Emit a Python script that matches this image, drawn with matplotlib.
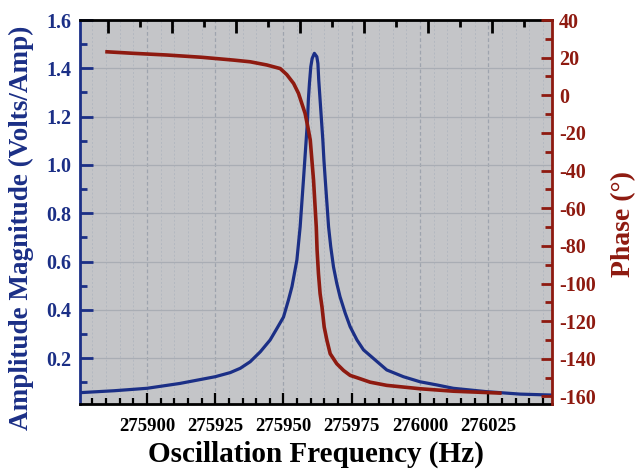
import matplotlib
matplotlib.use("Agg")
import matplotlib.pyplot as plt
from matplotlib.ticker import MultipleLocator, FixedLocator

# amplitude magnitude
amp_freq = [275875.6, 275888.1, 275900.0, 275912.0, 275925.0, 275930.5, 275934.2,
            275937.8, 275941.5, 275945.1, 275947.6, 275950.0, 275951.8, 275953.1,
            275954.0, 275954.9, 275955.5, 275956.1, 275956.7, 275957.3, 275957.8,
            275958.3, 275958.8, 275959.1, 275959.5, 275960.0, 275960.5, 275961.3,
            275962.2, 275962.6, 275962.9, 275963.4, 275963.9, 275964.4, 275964.8,
            275965.3, 275965.9, 275966.5, 275967.3, 275968.3, 275969.5, 275970.7,
            275972.6, 275974.4, 275976.9, 275979.3, 275987.8, 275993.9, 276000.0,
            276006.1, 276012.2, 276024.4, 276036.6, 276048.3]
amp_vals = [0.057, 0.065, 0.075, 0.095, 0.123, 0.140, 0.158,
            0.185, 0.226, 0.275, 0.323, 0.370, 0.440, 0.496,
            0.551, 0.606, 0.675, 0.744, 0.841, 0.937, 1.020,
            1.103, 1.186, 1.269, 1.338, 1.407, 1.441, 1.462,
            1.448, 1.420, 1.352, 1.269, 1.186, 1.103, 1.020,
            0.937, 0.841, 0.744, 0.661, 0.578, 0.510, 0.454,
            0.386, 0.330, 0.275, 0.234, 0.151, 0.123, 0.102,
            0.089, 0.075, 0.061, 0.051, 0.047]

# phase in degrees
ph_freq = [275885.4, 275895.0, 275907.3, 275920.0, 275931.7, 275937.8, 275943.9,
           275948.8, 275951.2, 275953.7, 275955.5, 275956.7, 275957.9, 275958.9,
           275959.8, 275960.4, 275961.0, 275961.5, 275962.0, 275962.3, 275962.8,
           275963.4, 275964.1, 275964.9, 275965.9, 275967.1, 275969.5, 275972.0,
           275974.4, 275978.1, 275981.7, 275987.8, 276000.0, 276012.2, 276029.2]
ph_vals = [23.1, 22.3, 21.4, 20.2, 18.7, 17.8, 16.1,
           14.2, 11.0, 6.3, 1.0, -4.3, -9.6, -16.7,
           -23.8, -34.5, -45.1, -57.5, -70.0, -82.3, -94.7,
           -105.4, -112.5, -123.1, -130.2, -137.3, -142.6, -146.2,
           -148.8, -150.6, -152.4, -154.1, -155.9, -157.2, -158.2]

blue = "#1b2f86"
red = "#8e1a10"
plt.rcParams["font.family"] = ["Liberation Serif", "DejaVu Serif"]
plt.rcParams["font.weight"] = "bold"
plt.rcParams["axes.unicode_minus"] = False

fig = plt.figure(figsize=(6.37, 4.70), dpi=100)
ax = fig.add_axes([80/637, 1-404/470, 472/637, 384/470])
ax.set_facecolor("#c4c5c8")

ax.plot(amp_freq, amp_vals, color=blue, lw=2.3, zorder=3)
ax.set_xlim(275875.5, 276048.3)
ax.set_ylim(0.01, 1.6)

ax.xaxis.set_major_locator(MultipleLocator(25))
ax.xaxis.set_minor_locator(MultipleLocator(5))
ax.yaxis.set_major_locator(MultipleLocator(0.2))
ax.yaxis.set_minor_locator(MultipleLocator(0.1))
ax.set_yticks([0.2, 0.4, 0.6, 0.8, 1.0, 1.2, 1.4, 1.6])

ax.grid(True, which="major", axis="y", color="#a9adb4", lw=0.9, ls="-")
ax.grid(True, which="major", axis="x", color="#9ea4ae", lw=0.9, ls=(0, (3, 2)))
ax.grid(True, which="minor", axis="x", color="#b3b8c0", lw=0.7, ls=(0, (2, 2)))
ax.set_axisbelow(True)

ax.tick_params(axis="y", which="major", direction="in", length=9, width=2,
               colors=blue, labelsize=14.5, pad=6)
ax.tick_params(axis="y", which="minor", direction="in", length=5, width=2, color=blue)
ax.tick_params(axis="x", which="major", direction="in", length=8, width=1.6,
               colors="black", labelsize=13.5, pad=10)
ax.tick_params(axis="x", which="minor", direction="in", length=4, width=1.6)
ax.tick_params(top=False, right=False, which="both")
ax.set_xticks([275900, 275925, 275950, 275975, 276000, 276025])

for s in ["top", "bottom"]:
    ax.spines[s].set_linewidth(2)
    ax.spines[s].set_color("black")
ax.spines["left"].set_color(blue)
ax.spines["left"].set_linewidth(2)

ax.set_xlabel("Oscillation Frequency (Hz)", fontsize=21, fontweight="bold", labelpad=4)
ax.set_ylabel("Amplitude Magnitude (Volts/Amp)", fontsize=19.5, fontweight="bold",
              color=blue)
ax.yaxis.set_label_coords(-0.098, 0.46)

# phase axis
ax2 = ax.twinx()
ax2.plot(ph_freq, ph_vals, color=red, lw=2.6, zorder=3)
ax2.set_ylim(-164, 40)
ax2.yaxis.set_major_locator(MultipleLocator(20))
ax2.yaxis.set_minor_locator(MultipleLocator(10))
ax2.tick_params(axis="y", which="major", direction="in", length=8, width=2,
                colors=red, labelsize=14.5, pad=5)
ax2.tick_params(axis="y", which="minor", direction="in", length=5, width=2, color=red)
ax2.spines["right"].set_color(red)
ax2.spines["right"].set_linewidth(2)
for s in ["left", "top", "bottom"]:
    ax2.spines[s].set_visible(False)
ax2.set_ylabel("Phase (°)", fontsize=20, fontweight="bold", color=red)
ax2.yaxis.set_label_coords(1.126, 0.47)

# top axis ticks (no labels), as in the original
top = ax.twiny()
top.set_xlim(0, 1)
top.xaxis.set_major_locator(FixedLocator([0.059, 0.195, 0.331, 0.466, 0.602, 0.737, 0.873]))
top.xaxis.set_minor_locator(FixedLocator([0.127, 0.263, 0.398, 0.534, 0.669, 0.805, 0.941]))
top.tick_params(which="major", direction="in", length=9, width=2, labeltop=False,
                bottom=False, labelbottom=False)
top.tick_params(which="minor", direction="in", length=5, width=2, bottom=False)
for s in ["left", "right", "bottom", "top"]:
    top.spines[s].set_visible(False)

fig.savefig("out.png", dpi=100)
